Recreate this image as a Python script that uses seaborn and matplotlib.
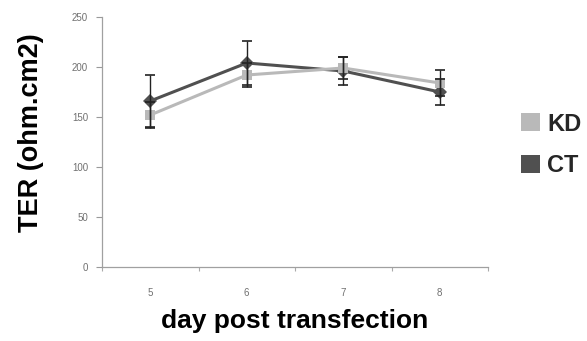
import matplotlib
matplotlib.use("Agg")
import matplotlib.pyplot as plt
from matplotlib.patches import Patch
from matplotlib.ticker import FixedLocator, NullFormatter
import seaborn as sns
import pandas as pd

days = [5, 6, 7, 8]
ct_mean = [166, 204, 196, 175]
ct_err = [26, 22, 14, 13]
kd_mean = [152, 192, 199, 184]
kd_err = [13, 12, 11, 13]

series_names = ["KD", "CT"]
series_colors = {"KD": "#b9b9b9", "CT": "#505050"}
series_markers = {"KD": "s", "CT": "D"}

df = pd.DataFrame({
    "day": days * 2,
    "TER": kd_mean + ct_mean,
    "err": kd_err + ct_err,
    "group": ["KD"] * 4 + ["CT"] * 4,
})

sns.set_theme(style="white")
plt.rcParams["font.family"] = ["Liberation Sans", "DejaVu Sans"]

fig = plt.figure(figsize=(5.87, 3.41), dpi=100)
ax = fig.add_axes([102 / 587, 1 - 267 / 341, (488 - 102) / 587, 250 / 341])

for name in ["CT", "KD"]:
    sub = df[df["group"] == name]
    ax.errorbar(sub["day"], sub["TER"], yerr=sub["err"], fmt="none",
                ecolor="#222222", elinewidth=1.0, capsize=3.5, capthick=1.2,
                zorder=4)

sns.lineplot(data=df, x="day", y="TER", hue="group", style="group",
             hue_order=["CT", "KD"], palette=series_colors,
             markers=series_markers, dashes=False, markersize=7.5,
             markeredgewidth=0, linewidth=2.2, legend=False, ax=ax, zorder=3)

ax.set_xlim(4.5, 8.5)
ax.set_ylim(0, 250)
ax.set_yticks([0, 50, 100, 150, 200, 250])
ax.set_xticks(days)
ax.xaxis.set_minor_locator(FixedLocator([4.5, 5.5, 6.5, 7.5, 8.5]))
ax.xaxis.set_minor_formatter(NullFormatter())
ax.tick_params(axis="x", which="major", length=0, pad=15,
               labelsize=7, labelcolor="#707070")
ax.tick_params(axis="x", which="minor", length=3, width=0.8,
               color="#aaaaaa", direction="out", bottom=True)
ax.tick_params(axis="y", length=4, width=0.8, color="#999999",
               direction="out", left=True, labelsize=7,
               labelcolor="#707070", pad=6)

for side in ["top", "right"]:
    ax.spines[side].set_visible(False)
for side in ["left", "bottom"]:
    ax.spines[side].set_color("#a0a0a0")
    ax.spines[side].set_linewidth(0.9)

ax.set_xlabel("day post transfection", fontsize=19, fontweight="bold",
              color="black", labelpad=8)
ax.set_ylabel("TER (ohm.cm2)", fontsize=19.5, fontweight="bold",
              color="black", labelpad=20)
ax.yaxis.label.set_y(0.536)

handles = [Patch(facecolor=series_colors[n], edgecolor="none", label=n)
           for n in series_names]
fig.legend(handles=handles, loc="center left",
           bbox_to_anchor=(500 / 587, 1 - 145 / 341), frameon=False,
           prop={"size": 17, "weight": "bold"}, handlelength=0.8,
           handleheight=0.8, handletextpad=0.3, labelspacing=0.8)

fig.savefig("out.png", dpi=100)
